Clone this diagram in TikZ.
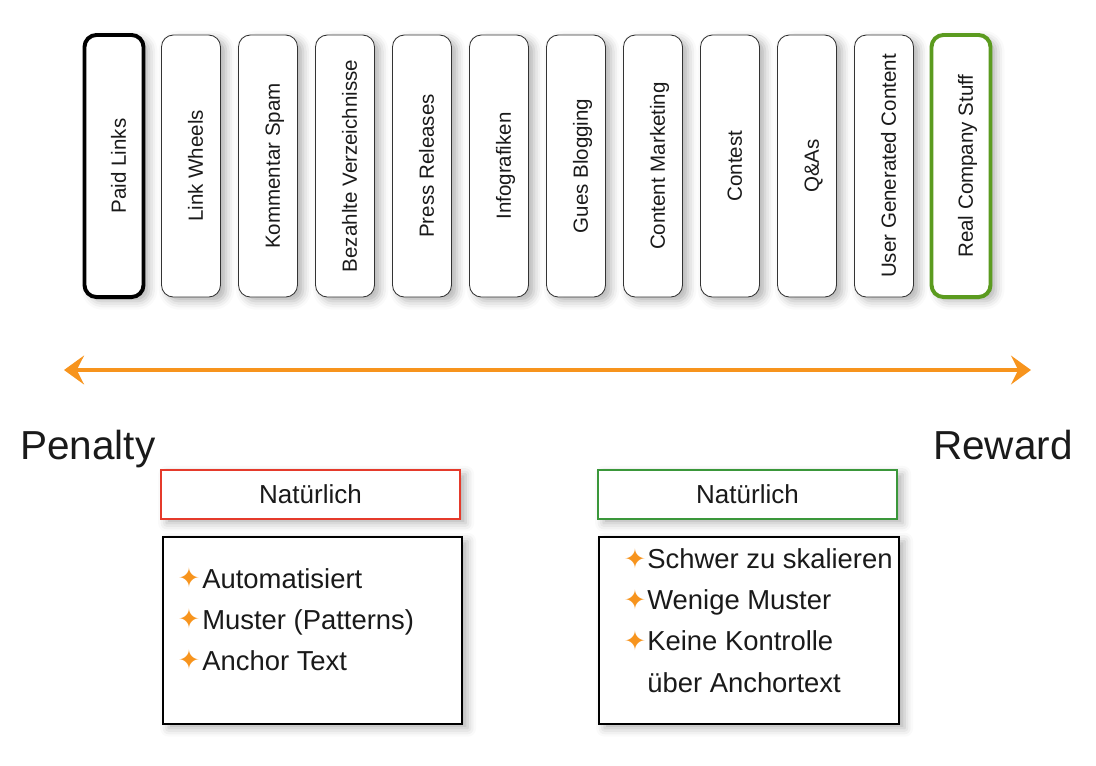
\documentclass[tikz,border=0pt]{standalone}
\usepackage{fontspec}
\setmainfont{Liberation Sans}
\newfontfamily\symfont{DejaVu Sans}
\usetikzlibrary{arrows.meta,shadows.blur}
\definecolor{seoOrange}{HTML}{F7941D}
\definecolor{seoGreen}{HTML}{5B9B1F}
\definecolor{seoRed}{HTML}{E53A2B}
\definecolor{natGreen}{HTML}{3A973A}
\definecolor{seoInk}{HTML}{1A1A1A}
\begin{document}
\begin{tikzpicture}[x=0.025cm,y=-0.025cm,
    seoShadow/.style={blur shadow={shadow xshift=4pt,shadow yshift=-3pt,shadow blur radius=6pt,shadow opacity=30}},
    seoBox/.style={draw=black!80,fill=white,rounded corners=0.3cm,rotate=90,inner sep=0pt,
      minimum width=6.55cm,minimum height=1.475cm,text height=20pt,text depth=3pt,
      text=seoInk,font=\fontsize{14.6}{16}\selectfont,seoShadow},
    seoPlain/.style={line width=0.6pt},
    seoBad/.style={draw=black,line width=2.8pt},
    seoGood/.style={draw=seoGreen,line width=2.8pt},
    seoArr/.style={{Stealth[length=0.5cm,width=0.72cm,inset=0.18cm]}-{Stealth[length=0.5cm,width=0.72cm,inset=0.18cm]},seoOrange,line width=2.4pt},
    seoHead/.style={inner sep=0pt,text=seoInk,font=\fontsize{28.8}{32}\selectfont},
    natBox/.style={fill=white,line width=1.1pt,minimum width=7.475cm,minimum height=1.225cm,
      text=seoInk,font=\fontsize{18.5}{20}\selectfont,seoShadow},
    listBox/.style={draw=black,fill=white,line width=0.8pt,minimum height=4.675cm,seoShadow},
    listText/.style={anchor=base west,inner sep=0pt,text=seoInk,font=\fontsize{19.5}{22}\selectfont},
    listStar/.style={inner sep=0pt,text=seoOrange,font=\symfont\fontsize{19}{19}\selectfont},
]
\useasboundingbox (0,0) rectangle (1096,765);
% Link types, from penalty to reward
\foreach \txt/\sty [count=\i from 0] in {Paid Links/seoBad,Link Wheels/seoPlain,Kommentar Spam/seoPlain,
    Bezahlte Verzeichnisse/seoPlain,Press Releases/seoPlain,Infografiken/seoPlain,Gues Blogging/seoPlain,
    Content Marketing/seoPlain,Contest/seoPlain,Q\&As/seoPlain,User Generated Content/seoPlain,
    Real Company Stuff/seoGood}
  \node[seoBox,\sty] (top\i) at (114+77*\i,166) {\txt};
% Scale arrow
\coordinate (arrL) at (64,370);
\coordinate (arrR) at (1031,370);
\draw[seoArr] (arrL) -- (arrR);
\node[seoHead,anchor=base west] (penalty) at (20,459) {Penalty};
\node[seoHead,anchor=base east] (reward) at (1073,459) {Reward};
% Penalty side
\node[natBox,draw=seoRed] (natL) at (310.5,494.5) {Natürlich};
\node[listBox,minimum width=7.475cm] (listL) at (312.5,630.5) {};
\foreach \txt [count=\i] in {Automatisiert,Muster (Patterns),Anchor Text} {
  \node[listText] (itemL\i) at (202,547+41*\i) {\txt};
  \node[listStar] (starL\i) at (189,537+41*\i) {✦};
}
% Reward side
\node[natBox,draw=natGreen] (natR) at (747.5,494.5) {Natürlich};
\node[listBox,minimum width=7.5cm] (listR) at (749,630.5) {};
\foreach \txt [count=\i] in {Schwer zu skalieren,Wenige Muster,Keine Kontrolle} {
  \node[listText] (itemR\i) at (647,527+41.3*\i) {\txt};
  \node[listStar] (starR\i) at (635,517+41.3*\i) {✦};
}
\node[listText] (itemR4) at (647,692) {über Anchortext};
\end{tikzpicture}
\end{document}
